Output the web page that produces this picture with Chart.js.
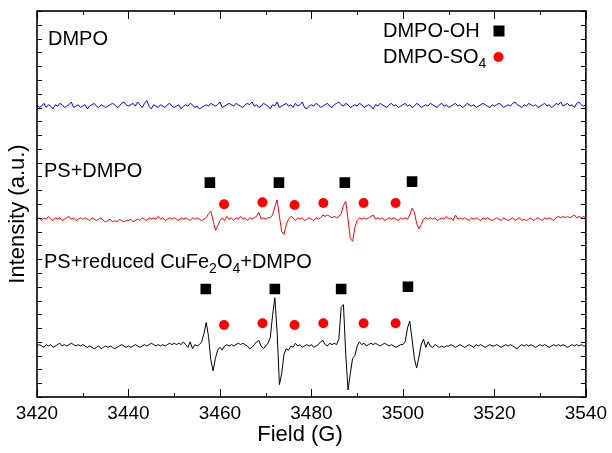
<!DOCTYPE html>
<html>
<head>
<meta charset="utf-8">
<script src="https://cdn.jsdelivr.net/npm/chart.js@4.4.0/dist/chart.umd.min.js"></script>
<style>
  html, body { margin: 0; padding: 0; background: #ffffff; }
  #wrap { width: 612px; height: 453px; }
</style>
</head>
<body>
<div id="wrap"><canvas id="c" width="612" height="453"></canvas></div>
<script>
// Field sweep: 3420–3540 G sampled every 0.5 G
const FIELD_START = 3420;
const FIELD_STEP = 0.5;
const fieldTicks = [3420, 3440, 3460, 3480, 3500, 3520, 3540];

// Spectrum intensities (a.u.), one value per field step, relative to each trace's baseline
const dmpoSignal = [
  1,-1,0,2,-1,1,0,-2,1,0,2,1,-1,0,1,3,-1,0,1,-1,
  0,1,-2,0,1,2,0,-1,1,0,-1,0,1,2,1,-1,0,2,3,1,
  0,1,2,0,3,1,-1,2,4,0,-2,1,0,-1,1,0,-1,1,2,0,
  -1,0,1,-2,0,1,0,2,1,-1,0,-2,-1,0,1,0,2,1,0,1,
  3,-1,0,1,2,1,0,2,1,0,-1,1,2,1,3,0,1,-1,0,2,
  1,0,-2,1,0,3,-1,0,1,2,0,1,-1,2,0,1,3,-1,-2,0,
  1,0,2,1,-1,0,1,2,0,-1,1,2,3,1,0,2,1,-1,0,1,
  0,2,1,-1,0,1,0,-2,1,0,2,1,0,-1,1,2,0,1,-1,0,
  1,2,0,1,-1,0,2,1,-1,0,1,0,2,1,0,-1,1,2,0,1,
  -1,0,1,2,0,1,-1,0,2,1,0,1,-1,0,1,2,1,0,-1,1,
  0,1,2,1,-1,0,1,0,2,3,1,0,-1,1,0,2,1,0,1,-1,
  0,1,2,0,1,-1,0,2,1,3,0,1,2,0,1,-1,2,3,1,0,
  1
];
const psDmpoSignal = [
  0,1,-1,1,0,2,0,-1,1,0,1,-1,0,1,2,0,1,-1,0,1,
  0,1,0,-1,1,0,-1,0,1,-1,-2,-1,0,-2,-1,-2,0,-1,-2,-1,
  -1,0,-2,-1,0,-1,1,0,-1,1,0,1,0,2,0,1,-1,0,1,0,
  1,0,-1,1,0,1,0,-1,1,0,1,0,-1,0,1,4,6,-1,-8,-5,
  -1,1,-1,2,0,1,-1,1,0,2,0,1,-1,1,0,1,2,5,0,1,
  0,1,1,3,9,14,2,-9,-11,-4,0,2,1,-1,1,0,1,-1,0,1,
  0,-1,1,0,1,3,2,3,2,1,2,1,2,4,10,13,0,-14,-16,-6,
  -1,1,0,1,0,1,2,3,0,1,0,1,-1,0,1,0,1,0,-1,1,
  0,1,0,3,8,5,-3,-7,-4,0,1,0,1,0,1,-1,0,1,0,2,
  0,1,-1,3,0,1,0,1,0,-1,1,0,1,0,-1,1,0,1,0,-1,
  0,1,0,-1,1,0,-1,0,1,-1,0,1,-1,0,-1,0,1,-1,0,1,
  0,-1,1,0,1,0,-1,1,2,1,2,1,2,1,2,3,1,2,1,2,
  1
];
const psCuFeSignal = [
  0,1,0,-1,1,0,1,-1,0,1,2,0,1,0,1,2,1,0,1,0,
  1,0,-1,0,-1,-2,-1,0,-2,-1,0,-1,0,-1,-2,-1,0,1,0,-1,
  0,-1,0,1,0,-1,0,1,0,1,2,1,0,1,0,1,0,1,2,1,
  2,1,2,1,3,1,-1,3,-2,1,0,1,3,9,17,7,-10,-18,-9,-3,
  -1,-3,0,1,0,1,0,1,2,1,2,1,0,-2,-1,1,3,4,0,-2,
  0,2,6,22,35,10,-28,-20,-6,-2,-3,0,-1,2,0,1,-1,0,1,0,
  1,-1,0,1,3,4,1,0,2,1,2,1,5,28,30,-6,-32,-20,-9,-7,
  0,3,1,2,0,1,2,1,2,1,0,1,2,1,0,1,0,-1,0,1,
  1,3,13,18,5,-9,-16,-8,1,5,-1,3,0,-1,1,0,-1,0,-1,0,
  0,1,0,-1,0,1,0,-1,0,1,0,-1,1,0,1,0,-1,0,1,0,
  0,1,0,-1,0,1,0,1,0,-1,-2,0,1,0,1,0,1,0,-1,0,
  1,0,1,0,-1,0,1,0,1,0,1,0,-1,0,1,0,1,0,1,0,
  0
];

// Vertical stacking offsets of the three spectra
const dmpoOffset = 211;
const psDmpoOffset = 129;
const psCuFeOffset = 37;

// Line assignments: DMPO-OH (squares) and DMPO-SO4 (circles)
const ohFieldsPs = [3457.8, 3472.9, 3487.3, 3502.0];
const ohLevelsPs = [155.5, 155.5, 155.5, 156.2];
const so4FieldsPs = [3460.9, 3469.3, 3476.3, 3482.6, 3491.4, 3498.4];
const so4LevelsPs = [139.8, 141.2, 139.3, 140.7, 140.7, 140.7];
const ohFieldsCuFe = [3456.9, 3472.0, 3486.5, 3501.1];
const ohLevelsCuFe = [78.3, 78.3, 78.3, 80.0];
const so4FieldsCuFe = [3460.9, 3469.3, 3476.3, 3482.6, 3491.4, 3498.4];
const so4LevelsCuFe = [52.2, 53.5, 52.2, 53.5, 53.5, 53.5];

const FONT = '"Liberation Sans", Arial, Helvetica, sans-serif';

function spectrum(signal, offset) {
  return signal.map((v, i) => ({ x: FIELD_START + i * FIELD_STEP, y: offset + v }));
}
function markers(fields, levels) {
  return fields.map((f, i) => ({ x: f, y: levels[i] }));
}

const frameAndLabels = {
  id: 'frameAndLabels',
  afterDraw(chart) {
    const ctx = chart.ctx;
    const a = chart.chartArea;
    const xs = chart.scales.x, ys = chart.scales.y;
    ctx.save();
    ctx.strokeStyle = '#000';
    ctx.lineWidth = 1;
    ctx.beginPath();
    // inward tick marks on all four sides
    for (let v = xs.min; v <= xs.max + 1e-6; v += 10) {
      const px = Math.round(xs.getPixelForValue(v)) + 0.5;
      const len = (v % 20 === 0) ? 8 : 4;
      ctx.moveTo(px, a.bottom); ctx.lineTo(px, a.bottom - len);
      ctx.moveTo(px, a.top); ctx.lineTo(px, a.top + len);
    }
    for (let v = ys.min; v <= ys.max + 1e-6; v += 10) {
      const py = Math.round(ys.getPixelForValue(v)) + 0.5;
      ctx.moveTo(a.left, py); ctx.lineTo(a.left + 5, py);
      ctx.moveTo(a.right, py); ctx.lineTo(a.right - 5, py);
    }
    ctx.stroke();
    ctx.lineWidth = 1.6;
    ctx.strokeRect(a.left, a.top, a.right - a.left, a.bottom - a.top);

    ctx.fillStyle = '#000';
    ctx.textBaseline = 'middle';

    // axis titles
    ctx.textAlign = 'center';
    ctx.font = '22px ' + FONT;
    ctx.fillText('Field (G)', 300, 435);
    ctx.save();
    ctx.translate(18, 214);
    ctx.rotate(-Math.PI / 2);
    ctx.fillText('Intensity (a.u.)', 0, 0);
    ctx.restore();

    // sample labels
    ctx.textAlign = 'left';
    ctx.font = '20px ' + FONT;
    ctx.fillText('DMPO', 48, 39);
    ctx.fillText('PS+DMPO', 44, 171);

    let x = 44;
    const y3 = 262;
    const parts = [['PS+reduced CuFe', false], ['2', true], ['O', false], ['4', true], ['+DMPO', false]];
    for (const [t, sub] of parts) {
      ctx.font = (sub ? '14px ' : '20px ') + FONT;
      ctx.fillText(t, x, sub ? y3 + 7 : y3);
      x += ctx.measureText(t).width;
    }

    // key
    ctx.font = '20px ' + FONT;
    ctx.fillText('DMPO-OH', 383, 31);
    ctx.fillText('DMPO-SO', 383, 57);
    const w = ctx.measureText('DMPO-SO').width;
    ctx.font = '14px ' + FONT;
    ctx.fillText('4', 383 + w, 64);
    ctx.fillRect(493.5, 25.5, 11, 11);
    ctx.fillStyle = '#ff0000';
    ctx.beginPath();
    ctx.arc(498.5, 57, 5, 0, Math.PI * 2);
    ctx.fill();
    ctx.restore();
  }
};

new Chart(document.getElementById('c'), {
  type: 'line',
  data: {
    datasets: [
      { data: spectrum(dmpoSignal, dmpoOffset), borderColor: '#0000ff', borderWidth: 1, pointRadius: 0, tension: 0 },
      { data: spectrum(psDmpoSignal, psDmpoOffset), borderColor: '#ff0000', borderWidth: 1, pointRadius: 0, tension: 0 },
      { data: spectrum(psCuFeSignal, psCuFeOffset), borderColor: '#000000', borderWidth: 1, pointRadius: 0, tension: 0 },
      { data: markers(ohFieldsPs, ohLevelsPs), showLine: false, pointStyle: 'rect', pointRadius: 7.5, backgroundColor: '#000', borderWidth: 0 },
      { data: markers(so4FieldsPs, so4LevelsPs), showLine: false, pointStyle: 'circle', pointRadius: 5, backgroundColor: '#ff0000', borderWidth: 0 },
      { data: markers(ohFieldsCuFe, ohLevelsCuFe), showLine: false, pointStyle: 'rect', pointRadius: 7.5, backgroundColor: '#000', borderWidth: 0 },
      { data: markers(so4FieldsCuFe, so4LevelsCuFe), showLine: false, pointStyle: 'circle', pointRadius: 5, backgroundColor: '#ff0000', borderWidth: 0 }
    ]
  },
  options: {
    responsive: false,
    animation: false,
    devicePixelRatio: 1,
    layout: { padding: { top: 11, right: 20, left: 0, bottom: 0 } },
    plugins: { legend: { display: false }, tooltip: { enabled: false } },
    scales: {
      x: {
        type: 'linear',
        min: fieldTicks[0],
        max: fieldTicks[fieldTicks.length - 1],
        afterBuildTicks: s => { s.ticks = fieldTicks.map(v => ({ value: v })); },
        ticks: { color: '#000', font: { family: FONT, size: 19 }, padding: 5, maxRotation: 0, callback: v => String(v) },
        grid: { drawOnChartArea: false, drawTicks: false },
        border: { display: false },
        afterFit: s => { s.height = 56; }
      },
      y: {
        min: 0,
        max: 280,
        ticks: { display: false, stepSize: 10 },
        grid: { drawOnChartArea: false, drawTicks: false },
        border: { display: false },
        afterFit: s => { s.width = 37; }
      }
    }
  },
  plugins: [frameAndLabels]
});
</script>
</body>
</html>
